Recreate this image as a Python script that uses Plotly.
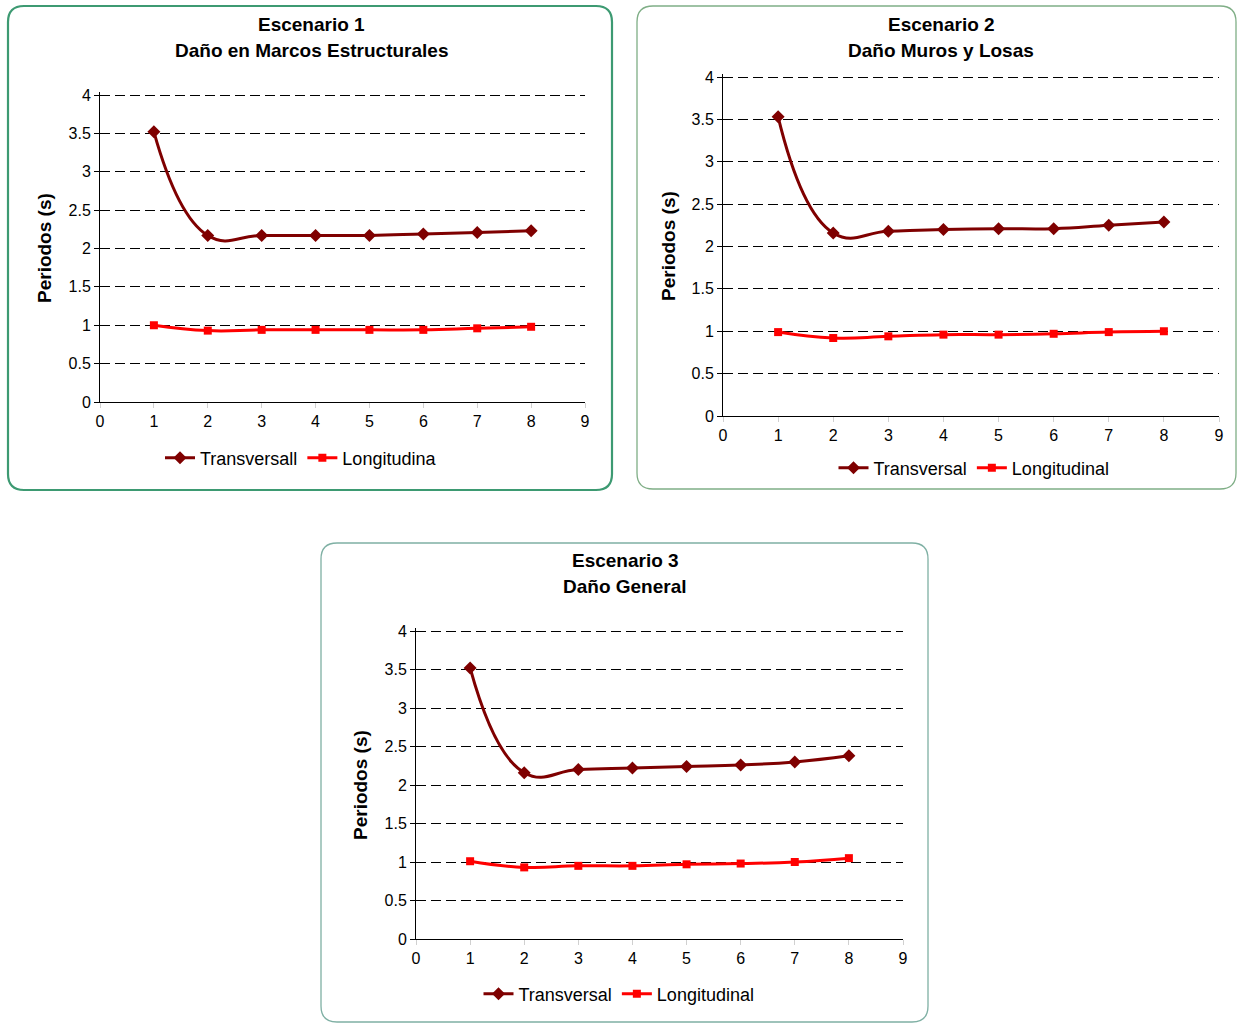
import plotly.graph_objects as go

W, H = 1239, 1025

# ---- data ----
x_vals = [1, 2, 3, 4, 5, 6, 7, 8]

esc1_trans = [3.52, 2.17, 2.17, 2.17, 2.17, 2.19, 2.21, 2.23]
esc1_long = [1.00, 0.93, 0.94, 0.94, 0.94, 0.94, 0.96, 0.98]

esc2_trans = [3.53, 2.16, 2.18, 2.20, 2.21, 2.21, 2.25, 2.29]
esc2_long = [0.99, 0.92, 0.94, 0.96, 0.96, 0.97, 0.99, 1.00]

esc3_trans = [3.52, 2.16, 2.20, 2.22, 2.24, 2.26, 2.30, 2.38]
esc3_long = [1.01, 0.93, 0.95, 0.95, 0.97, 0.98, 1.00, 1.05]

titles = [
    ("Escenario 1", "Daño en Marcos Estructurales"),
    ("Escenario 2", "Daño Muros y Losas"),
    ("Escenario 3", "Daño General"),
]
legend_names = [
    ("Transversall", "Longitudina"),
    ("Transversal", "Longitudinal"),
    ("Transversal", "Longitudinal"),
]
y_title = "Periodos (s)"
x_ticks = list(range(0, 10))
y_ticks = [0, 0.5, 1, 1.5, 2, 2.5, 3, 3.5, 4]
y_ticklabels = ["0", "0.5", "1", "1.5", "2", "2.5", "3", "3.5", "4"]

FONT = "Liberation Sans, Arial, sans-serif"
DARK = "#7f0000"
RED = "#ff0000"
Y_MAX = 4.0
Y_PAD = 0.04   # small headroom so the gridline at 4 is drawn


def px(x):
    return x / W


def py(y):
    return 1 - y / H


# panel geometry in pixels
panels = [
    dict(plot=(100, 585, 95, 402), box=(8, 612, 6, 490), bw=2.2, bc="#3d9a72",
         tc=311, t1=24, t2=50, yt=(44, 248), leg=(301, 458)),
    dict(plot=(723, 1219, 77, 416), box=(637, 1236, 6, 489), bw=1.3, bc="#7fae86",
         tc=941, t1=24, t2=50, yt=(668, 246), leg=(974, 468)),
    dict(plot=(416, 903, 631, 939), box=(321, 928, 543, 1022), bw=1.3, bc="#7fb0a4",
         tc=625, t1=560, t2=586, yt=(360, 785), leg=(619, 994)),
]

data_sets = [(esc1_trans, esc1_long), (esc2_trans, esc2_long), (esc3_trans, esc3_long)]

fig = go.Figure()
shapes = []
annotations = []
layout_axes = {}

for i, (p, (tr, lo), names, ttl) in enumerate(zip(panels, data_sets, legend_names, titles)):
    n = "" if i == 0 else str(i + 1)
    leg = "legend" if i == 0 else f"legend{i + 1}"
    fig.add_trace(go.Scatter(
        x=x_vals, y=tr, name=names[0], mode="lines+markers",
        line=dict(color=DARK, width=3, shape="spline", smoothing=1.3),
        marker=dict(symbol="diamond", size=10, color=DARK),
        xaxis=f"x{n}", yaxis=f"y{n}", legend=leg))
    fig.add_trace(go.Scatter(
        x=x_vals, y=lo, name=names[1], mode="lines+markers",
        line=dict(color=RED, width=3, shape="spline", smoothing=1.3),
        marker=dict(symbol="square", size=8, color=RED),
        xaxis=f"x{n}", yaxis=f"y{n}", legend=leg))

    x0, x1, y0, y1 = p["plot"]
    ppu = (y1 - y0) / Y_MAX
    y_top = y0 - Y_PAD * ppu
    layout_axes[f"xaxis{n}"] = dict(
        domain=[px(x0), px(x1)], range=[0, 9], tickvals=x_ticks,
        showline=True, linecolor="black", linewidth=1, ticks="outside",
        ticklen=5, tickcolor="#d0d0d0", showgrid=False, zeroline=False,
        anchor=f"y{n}", tickfont=dict(family=FONT, size=16, color="black"),
        fixedrange=True, automargin=False)
    layout_axes[f"yaxis{n}"] = dict(
        domain=[py(y1), py(y_top)], range=[0, Y_MAX + Y_PAD], tickvals=y_ticks,
        ticktext=y_ticklabels,
        showline=True, linecolor="black", linewidth=1, ticks="outside",
        ticklen=5, tickcolor="black", showgrid=True, gridcolor="black",
        gridwidth=1, griddash="10px,5px", zeroline=False, anchor=f"x{n}",
        tickfont=dict(family=FONT, size=16, color="black"), fixedrange=True,
        automargin=False)

    # rounded box
    bx0, bx1, by0, by1 = p["box"]
    r = 16
    path = (
        f"M {px(bx0 + r)},{py(by0)} L {px(bx1 - r)},{py(by0)} "
        f"Q {px(bx1)},{py(by0)} {px(bx1)},{py(by0 + r)} "
        f"L {px(bx1)},{py(by1 - r)} Q {px(bx1)},{py(by1)} {px(bx1 - r)},{py(by1)} "
        f"L {px(bx0 + r)},{py(by1)} Q {px(bx0)},{py(by1)} {px(bx0)},{py(by1 - r)} "
        f"L {px(bx0)},{py(by0 + r)} Q {px(bx0)},{py(by0)} {px(bx0 + r)},{py(by0)} Z"
    )
    shapes.append(dict(type="path", xref="paper", yref="paper", path=path,
                       line=dict(color=p["bc"], width=p["bw"]), layer="below"))

    # titles
    for txt, yy in ((ttl[0], p["t1"]), (ttl[1], p["t2"])):
        annotations.append(dict(
            text=f"<b>{txt}</b>", x=px(p["tc"]), y=py(yy), xref="paper", yref="paper",
            xanchor="center", yanchor="middle", showarrow=False,
            font=dict(family=FONT, size=19, color="black")))
    # y title
    annotations.append(dict(
        text=f"<b>{y_title}</b>", x=px(p["yt"][0]), y=py(p["yt"][1]), xref="paper",
        yref="paper", xanchor="center", yanchor="middle", showarrow=False,
        textangle=-90, font=dict(family=FONT, size=19, color="black")))

    layout_axes[leg] = dict(
        orientation="h", x=px(p["leg"][0]), y=py(p["leg"][1]), xanchor="center",
        yanchor="middle", xref="paper", yref="paper", bgcolor="rgba(0,0,0,0)",
        font=dict(family=FONT, size=18, color="black"), itemwidth=30,
        tracegroupgap=0, traceorder="normal")

fig.update_layout(
    width=W, height=H, margin=dict(l=0, r=0, t=0, b=0, autoexpand=False),
    paper_bgcolor="white", plot_bgcolor="white",
    shapes=shapes, annotations=annotations, showlegend=True,
    **layout_axes)

fig.write_html(
    "out.html",
    config={"displayModeBar": False},
    post_script="document.body.style.margin='0';document.body.style.overflow='hidden';",
)
